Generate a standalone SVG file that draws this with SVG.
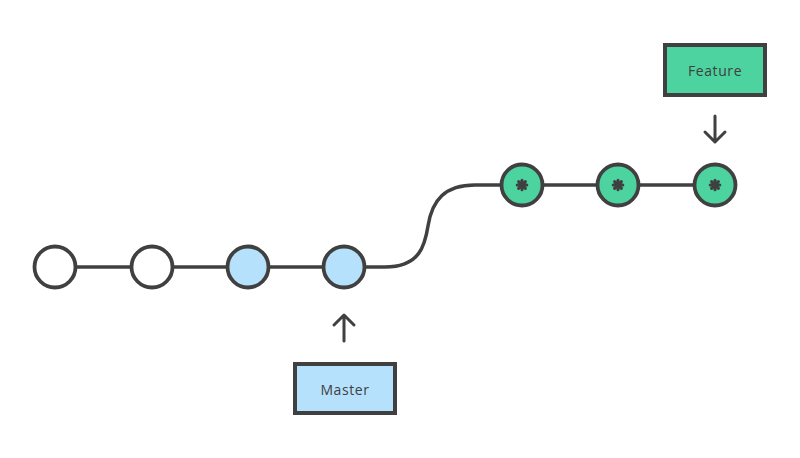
<svg xmlns="http://www.w3.org/2000/svg" width="800" height="458" viewBox="0 0 800 458">
<style>
.edge{fill:none;stroke:#404040;stroke-width:3.5}
.c{stroke:#404040;stroke-width:3.8}
.w{fill:#fff}.b{fill:#b5e1fd}.g{fill:#4cd39f}
.box{stroke:#404040;stroke-width:4}
.lbl{font-family:"Open Sans","Lato",sans-serif;font-size:14px;fill:#404040;text-anchor:middle;letter-spacing:0.6px}
.arr{fill:none;stroke:#404040;stroke-width:3;stroke-linecap:round;stroke-linejoin:round}
.ast{stroke:#404040;stroke-width:3;stroke-linecap:round}
</style>
<defs>
<g id="star">
<circle r="3.5" fill="#404040"/>
<line class="ast" x1="0" y1="-4.8" x2="0" y2="4.8"/>
<line class="ast" x1="-4.8" y1="0" x2="4.8" y2="0"/>
<line class="ast" x1="-3.4" y1="-3.4" x2="3.4" y2="3.4"/>
<line class="ast" x1="-3.4" y1="3.4" x2="3.4" y2="-3.4"/>
</g>
</defs>
<rect width="800" height="458" fill="#fff"/>
<g id="connectors">
<line class="edge" x1="56" y1="267" x2="344" y2="267"/>
<path class="edge" d="M344,267 H385 C420,267 425,245 428,226 C432,200 445,185 475,185 H714"/>
<path class="arr" d="M344,341 V315 M334,325 L344,315 L354,325"/>
<path class="arr" d="M715,116 V142 M705,132 L715,142 L725,132"/>
</g>
<g id="n1"><circle class="c w" cx="55" cy="267" r="20.5"/></g>
<g id="n2"><circle class="c w" cx="152" cy="267" r="20.5"/></g>
<g id="n3"><circle class="c b" cx="248" cy="267" r="20.5"/></g>
<g id="n4"><circle class="c b" cx="344" cy="267" r="20.5"/></g>
<g id="n5"><circle class="c g" cx="522" cy="185" r="20.5"/><use href="#star" x="522" y="185"/></g>
<g id="n6"><circle class="c g" cx="618" cy="185" r="20.5"/><use href="#star" x="618" y="185"/></g>
<g id="n7"><circle class="c g" cx="715" cy="185" r="20.5"/><use href="#star" x="715" y="185"/></g>
<g id="feature"><rect class="box g" x="665" y="45" width="100" height="50"/><text class="lbl" x="715" y="76">Feature</text></g>
<g id="master"><rect class="box b" x="295" y="364" width="100" height="49"/><text class="lbl" x="345" y="395">Master</text></g>
</svg>
